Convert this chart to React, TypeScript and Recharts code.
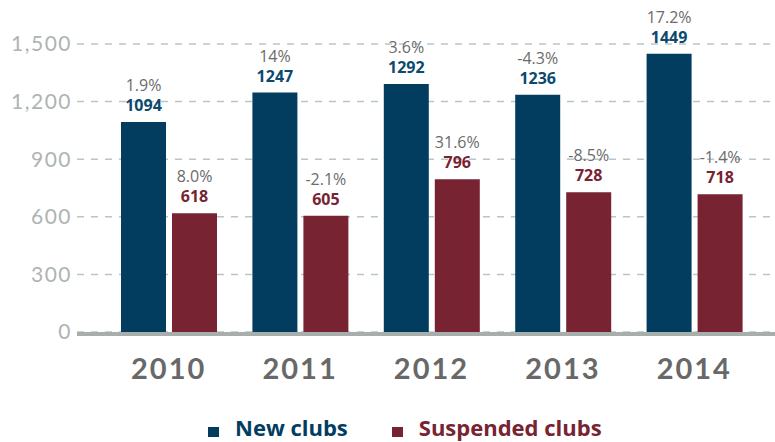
import { BarChart, Bar, XAxis, YAxis, CartesianGrid, LabelList } from "recharts";

const years = ["2010", "2011", "2012", "2013", "2014"];
const newClubs = [1094, 1247, 1292, 1236, 1449];
const suspendedClubs = [618, 605, 796, 728, 718];
const newChange = ["1.9%", "14%", "3.6%", "-4.3%", "17.2%"];
const suspendedChange = ["8.0%", "-2.1%", "31.6%", "-8.5%", "-1.4%"];
const yTicks = [0, 300, 600, 900, 1200, 1500];

const BLUE = "#023d5f";
const MAROON = "#772332";
const LABEL_FONT = "'Open Sans', sans-serif";

const data = years.map((year, i) => ({
  year,
  newClubs: newClubs[i],
  suspendedClubs: suspendedClubs[i],
}));

function makeLabel(changes: string[], color: string) {
  return function BarLabel(props: any) {
    const { x, y, width, value, index } = props;
    const cx = Number(x) + Number(width) / 2;
    const top = Number(y);
    return (
      <g>
        <text
          x={cx}
          y={top - 31}
          textAnchor="middle"
          fontFamily={LABEL_FONT}
          fontSize={16}
          fill="#6b6b6b"
        >
          {changes[index]}
        </text>
        <text
          x={cx}
          y={top - 11}
          textAnchor="middle"
          fontFamily={LABEL_FONT}
          fontSize={16}
          fontWeight={700}
          fill={color}
        >
          {value}
        </text>
      </g>
    );
  };
}

const legendItems = [
  { label: "New clubs", color: BLUE },
  { label: "Suspended clubs", color: MAROON },
];

export default function App() {
  return (
    <div style={{ position: "absolute", left: 0, top: 0, width: 775, height: 442 }}>
      <BarChart
        width={775}
        height={442}
        data={data}
        margin={{ top: 44, right: 0, bottom: 80, left: 0 }}
        barGap={6}
        barSize={45}
      >
        <CartesianGrid vertical={false} stroke="#b9c6c6" strokeDasharray="7 7" strokeWidth={1.5} />
        <YAxis
          width={77}
          domain={[0, 1500]}
          ticks={yTicks}
          axisLine={false}
          tickLine={false}
          tickSize={3}
          tickMargin={2}
          tickFormatter={(v: number) => v.toLocaleString("en-US")}
          tick={{ fill: "#adb4b1", fontSize: 21, fontFamily: "Lato, sans-serif", letterSpacing: 1.5 }}
        />
        <Bar dataKey="newClubs" fill={BLUE} isAnimationActive={false}>
          <LabelList dataKey="newClubs" content={makeLabel(newChange, "#0b4a6e")} />
        </Bar>
        <Bar dataKey="suspendedClubs" fill={MAROON} isAnimationActive={false}>
          <LabelList dataKey="suspendedClubs" content={makeLabel(suspendedChange, MAROON)} />
        </Bar>
        <XAxis
          dataKey="year"
          height={30}
          padding={{ left: 26, right: 15 }}
          axisLine={{ stroke: "#a8aeab", strokeWidth: 4, transform: "translate(0,2)" }}
          tickLine={false}
          tickSize={0}
          tickMargin={26}
          tick={{ fill: "#686868", fontSize: 29, fontWeight: 700, fontFamily: "Lato, sans-serif", letterSpacing: 2 }}
        />
      </BarChart>
      <div
        style={{
          position: "absolute",
          left: 208,
          top: 416,
          display: "flex",
          alignItems: "center",
          fontFamily: LABEL_FONT,
          lineHeight: "22px",
          gap: 44,
        }}
      >
        {legendItems.map((item) => (
          <div key={item.label} style={{ display: "flex", alignItems: "center" }}>
            <span style={{ width: 11, height: 10, background: item.color, marginRight: 16, display: "inline-block", marginTop: 10 }} />
            <span style={{ color: item.color, fontWeight: 700, fontSize: 22 }}>{item.label}</span>
          </div>
        ))}
      </div>
    </div>
  );
}
